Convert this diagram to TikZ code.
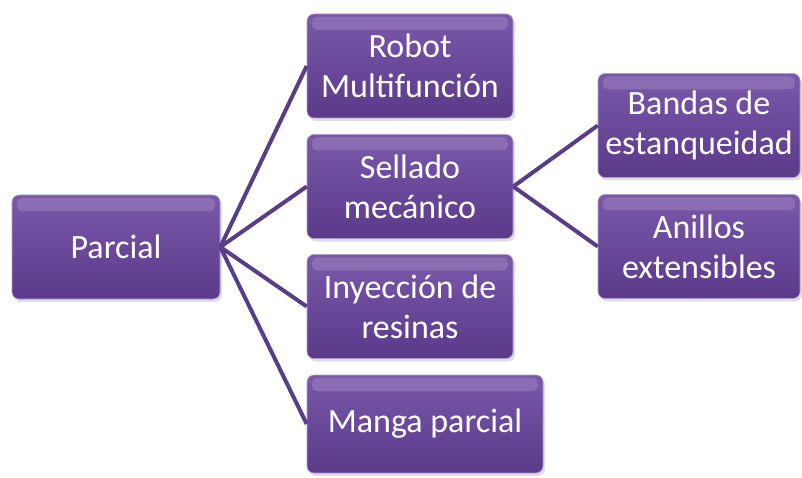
\documentclass[tikz,border=0pt]{standalone}
\usepackage{fontspec}
\setmainfont{Carlito}
\usetikzlibrary{shadows,positioning}
\definecolor{boxtop}{RGB}{122,88,170}
\definecolor{boxbot}{RGB}{92,58,138}
\definecolor{linkcol}{RGB}{88,62,134}
\newcommand{\boxh}{104pt}
\tikzset{
    boxsty/.style={rounded corners=7pt, top color=boxtop, bottom color=boxbot,
        draw=boxtop!60!white, line width=0.6pt, text=white, align=center,
        minimum height=\boxh, inner sep=0pt, font=\fontsize{34}{40}\selectfont,
        drop shadow={opacity=0.25, shadow xshift=2pt, shadow yshift=-3pt},
        path picture={\fill[white, opacity=0.14, rounded corners=5pt]
            ([xshift=5pt,yshift=-3pt]path picture bounding box.north west) rectangle
            ([xshift=-5pt,yshift=-16pt]path picture bounding box.north east);}},
    linksty/.style={draw=linkcol, line width=4pt},
}

\begin{document}
\begin{tikzpicture}[x=1pt,y=1pt]
\useasboundingbox (0,0) rectangle (802,477);

% level 0
\node[boxsty, minimum width=208pt] (parcial) at (116,230) {Parcial};

% level 1
\node[boxsty, minimum width=206pt] (robot)     at (410,411)   {Robot\\Multifunción};
\node[boxsty, minimum width=206pt] (sellado)   at (410,290.5) {Sellado\\mecánico};
\node[boxsty, minimum width=206pt] (inyeccion) at (410,170.5) {Inyección de\\resinas};
\node[boxsty, minimum width=236pt, minimum height=98pt] (manga) at (425,53) {Manga parcial};

% level 2
\node[boxsty, minimum width=202pt] (bandas)  at (699,351.5) {Bandas de\\estanqueidad};
\node[boxsty, minimum width=202pt] (anillos) at (699,230.5) {Anillos\\extensibles};

\foreach \c in {robot,sellado,inyeccion,manga}
  \draw[linksty] (parcial.east) -- (\c.west);
\foreach \c in {bandas,anillos}
  \draw[linksty] (sellado.east) -- (\c.west);
\end{tikzpicture}
\end{document}
